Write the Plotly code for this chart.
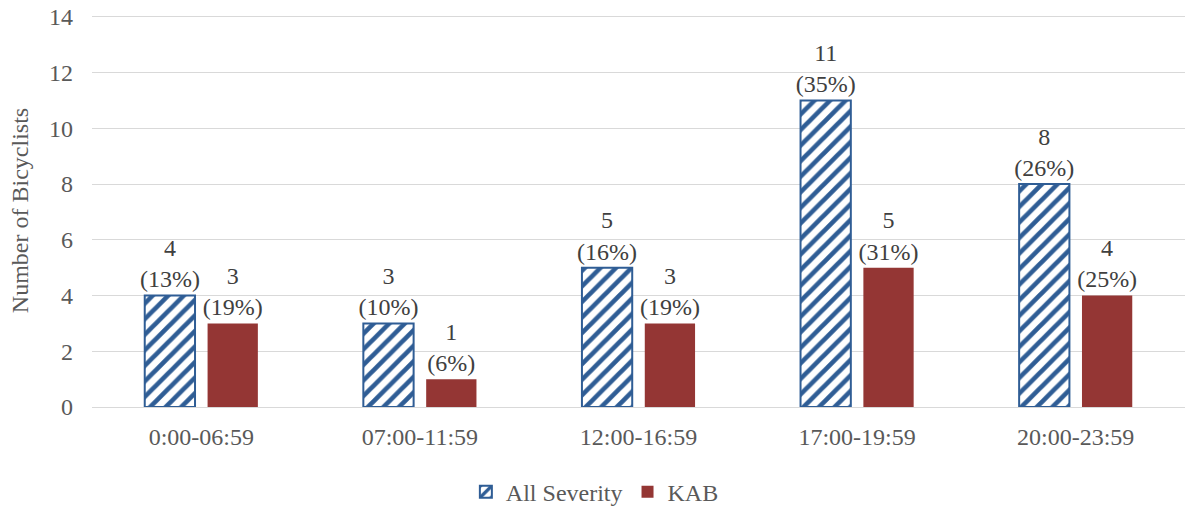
import plotly.graph_objects as go

categories = ["0:00-06:59", "07:00-11:59", "12:00-16:59", "17:00-19:59", "20:00-23:59"]
all_severity = [4, 3, 5, 11, 8]
all_severity_pct = ["13%", "10%", "16%", "35%", "26%"]
kab = [3, 1, 3, 5, 4]
kab_pct = ["19%", "6%", "19%", "31%", "25%"]

FONT = "Liberation Serif, Times New Roman, serif"
BLUE = "#2F5D95"
RED = "#943634"
FS = 24

fig = go.Figure()
fig.add_trace(go.Bar(
    name="All Severity", x=categories, y=all_severity,
    text=[f"{v}<br>({p})" for v, p in zip(all_severity, all_severity_pct)],
    textposition="outside", constraintext="none",
    textfont=dict(family=FONT, size=FS, color="#404040"),
    marker=dict(color="white", line=dict(color=BLUE, width=2),
                pattern=dict(shape="/", fgcolor=BLUE, bgcolor="white", fgopacity=1,
                             size=11, solidity=0.42)),
    cliponaxis=False,
))
fig.add_trace(go.Bar(
    name="KAB", x=categories, y=kab,
    text=[f"{v}<br>({p})" for v, p in zip(kab, kab_pct)],
    textposition="outside", constraintext="none",
    textfont=dict(family=FONT, size=FS, color="#404040"),
    marker=dict(color=RED, line=dict(color=RED, width=0)),
    cliponaxis=False,
))

fig.update_layout(
    width=1185, height=510,
    margin=dict(l=92, r=0, t=14, b=103, autoexpand=False),
    paper_bgcolor="white", plot_bgcolor="white",
    font=dict(family=FONT, size=FS, color="#595959"),
    barmode="group", bargap=0.425, bargroupgap=0.2,
    legend=dict(orientation="h", xref="container", x=0.502, xanchor="center",
                yref="container", y=0.035, yanchor="middle",
                font=dict(family=FONT, size=FS, color="#595959")),
    xaxis=dict(showline=True, linecolor="#D9D9D9", linewidth=1, ticks="",
               ticklabelstandoff=8, automargin=False,
               tickfont=dict(family=FONT, size=FS, color="#595959")),
    yaxis=dict(range=[0, 14.1], tickvals=[0, 2, 4, 6, 8, 10, 12, 14],
               showgrid=True, gridcolor="#D9D9D9", gridwidth=1,
               zeroline=False, ticks="", ticklabelstandoff=18, automargin=False,
               tickfont=dict(family=FONT, size=FS, color="#595959"),
               title=dict(text="Number of Bicyclists", font=dict(family=FONT, size=FS, color="#595959"),
                          standoff=13)),
)

fig.write_html("out.html", config={"displayModeBar": False},
               post_script="document.body.style.margin='0px';")
